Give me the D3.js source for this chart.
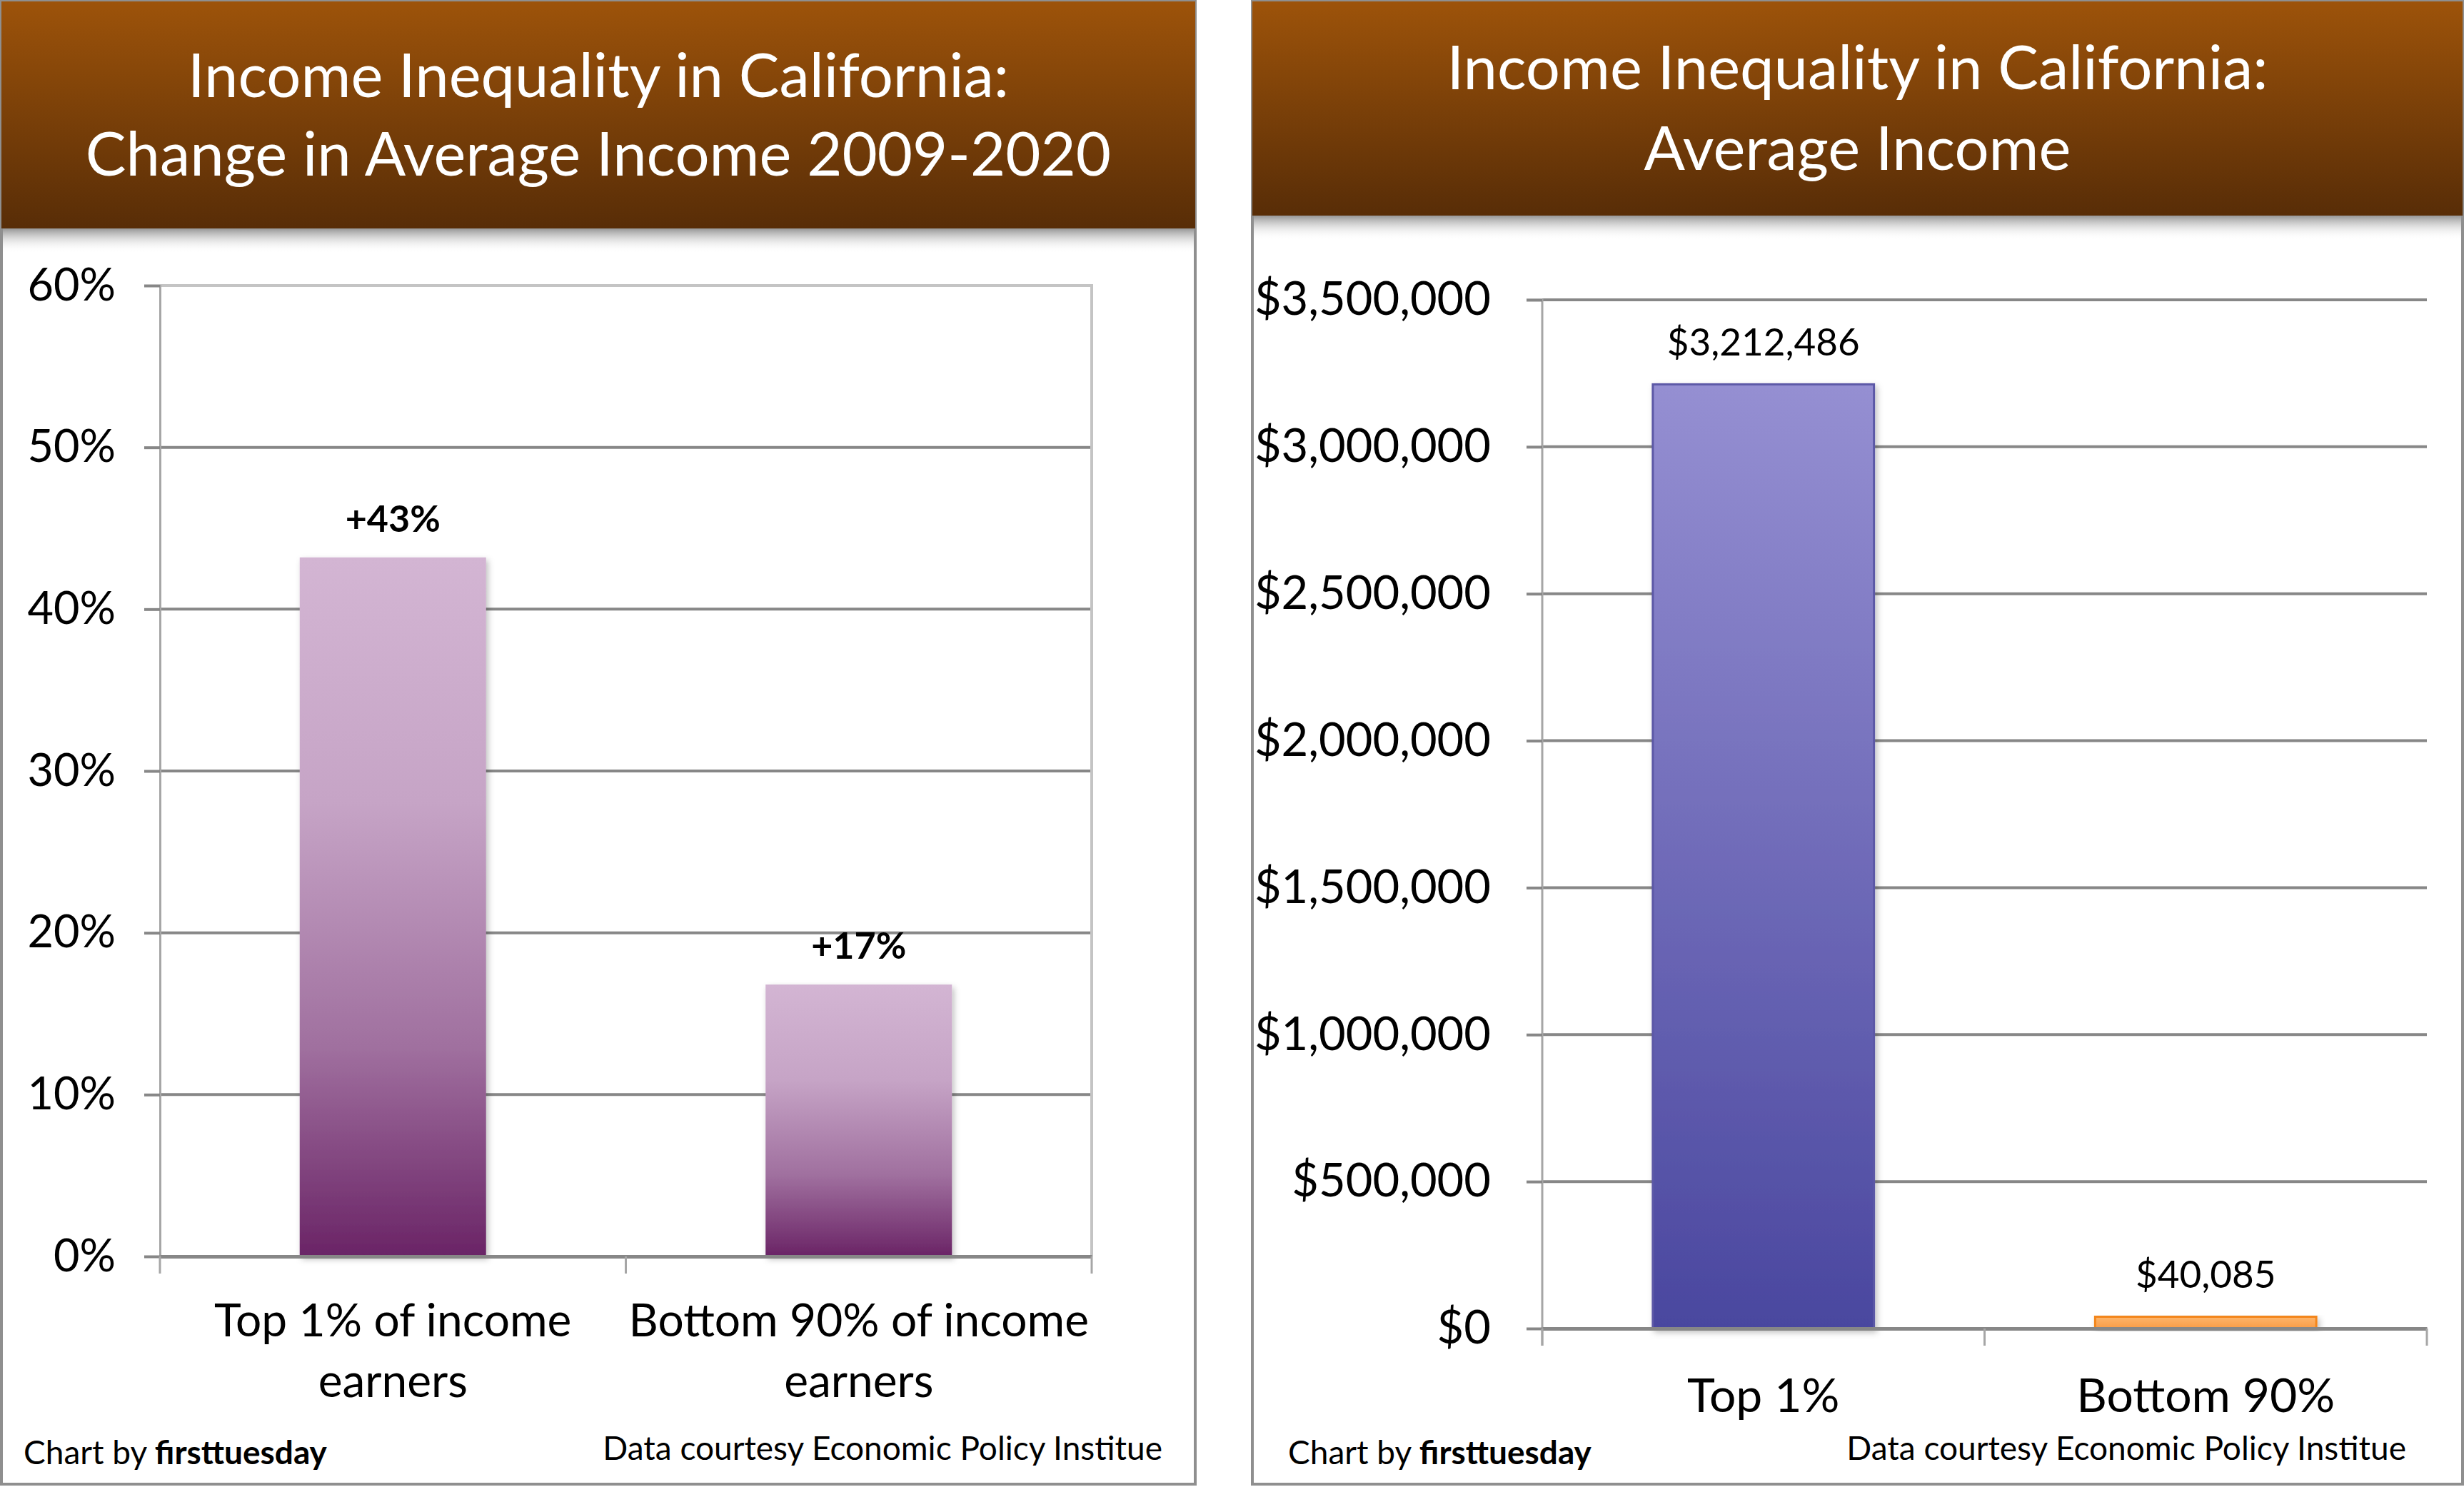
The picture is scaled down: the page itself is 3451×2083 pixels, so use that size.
<!DOCTYPE html>
<html>
<head>
<meta charset="utf-8">
<script src="https://cdn.jsdelivr.net/npm/d3@7"></script>
<style>
  body { margin: 0; background: #fff; }
  text { font-family: Lato, "Open Sans", sans-serif; }
</style>
</head>
<body>
<div id="chart"></div>
<script>
// Chart values
var changeCategories = ["Top 1% of income\nearners", "Bottom 90% of income\nearners"];
var changeValues = [43.2, 16.8];
var changeTicks = [0, 10, 20, 30, 40, 50, 60];

var incomeCategories = ["Top 1%", "Bottom 90%"];
var incomeValues = [3212486, 40085];
var incomeTicks = [0, 500000, 1000000, 1500000, 2000000, 2500000, 3000000, 3500000];

var W = 3451, H = 2083;

var svg = d3.select("#chart").append("svg")
    .attr("width", W)
    .attr("height", H);

var defs = svg.append("defs");

// header gradient (brown)
var hg = defs.append("linearGradient").attr("id", "hdr").attr("x1", 0).attr("y1", 0).attr("x2", 0).attr("y2", 1);
hg.append("stop").attr("offset", 0).attr("stop-color", "#9d530a");
hg.append("stop").attr("offset", 1).attr("stop-color", "#582d07");

// header shadow
var sg = defs.append("linearGradient").attr("id", "hdrShadow").attr("x1", 0).attr("y1", 0).attr("x2", 0).attr("y2", 1);
sg.append("stop").attr("offset", 0).attr("stop-color", "#8a8a8a").attr("stop-opacity", 0.9);
sg.append("stop").attr("offset", 1).attr("stop-color", "#ffffff").attr("stop-opacity", 0);

// purple bars (left)
var pg = defs.append("linearGradient").attr("id", "purple").attr("x1", 0).attr("y1", 0).attr("x2", 0).attr("y2", 1);
pg.append("stop").attr("offset", 0).attr("stop-color", "#d3b5d3");
pg.append("stop").attr("offset", 0.35).attr("stop-color", "#c6a4c6");
pg.append("stop").attr("offset", 0.7).attr("stop-color", "#a0709f");
pg.append("stop").attr("offset", 1).attr("stop-color", "#6a2466");

// blue bar (right)
var bg = defs.append("linearGradient").attr("id", "blue").attr("x1", 0).attr("y1", 0).attr("x2", 0).attr("y2", 1);
bg.append("stop").attr("offset", 0).attr("stop-color", "#958fd2");
bg.append("stop").attr("offset", 1).attr("stop-color", "#4a479f");

// orange bar (right)
var og = defs.append("linearGradient").attr("id", "orange").attr("x1", 0).attr("y1", 0).attr("x2", 0).attr("y2", 1);
og.append("stop").attr("offset", 0).attr("stop-color", "#fdb56b");
og.append("stop").attr("offset", 1).attr("stop-color", "#f99c47");

var shadow = defs.append("filter").attr("id", "barShadow")
    .attr("x", "-10%").attr("y", "-10%").attr("width", "130%").attr("height", "130%");
shadow.append("feDropShadow")
    .attr("dx", 3).attr("dy", 4).attr("stdDeviation", 4)
    .attr("flood-color", "#000").attr("flood-opacity", 0.25);

// draws the framed panel with the brown header
function drawPanel(x0, x1, headerH, titleLines, titleBaselines, footLeft, footRight) {
    var g = svg.append("g");
    g.append("rect")
        .attr("x", x0 + 2).attr("y", 2)
        .attr("width", x1 - x0 - 4).attr("height", H - 6)
        .attr("fill", "#fff")
        .attr("stroke", "#8f8f8f")
        .attr("stroke-width", 4);
    g.append("rect")
        .attr("x", x0 + 4).attr("y", headerH)
        .attr("width", x1 - x0 - 8).attr("height", 34)
        .attr("fill", "url(#hdrShadow)");
    g.append("rect")
        .attr("x", x0 + 2).attr("y", 2)
        .attr("width", x1 - x0 - 4).attr("height", headerH - 2)
        .attr("fill", "url(#hdr)");
    g.selectAll("text.title")
        .data(titleLines)
        .enter()
        .append("text")
        .attr("class", "title")
        .attr("x", (x0 + x1) / 2)
        .attr("y", (d, i) => titleBaselines[i])
        .attr("text-anchor", "middle")
        .attr("fill", "#fff")
        .attr("font-size", 85)
        .text(d => d);

    // footer
    var foot = g.append("text")
        .attr("x", footLeft).attr("y", 2051)
        .attr("font-size", 46)
        .attr("fill", "#000");
    foot.append("tspan").text("Chart by ");
    foot.append("tspan").attr("font-weight", "bold").text("firsttuesday");
    g.append("text")
        .attr("x", footRight).attr("y", 2045)
        .attr("text-anchor", "end")
        .attr("font-size", 46)
        .attr("fill", "#000")
        .text("Data courtesy Economic Policy Institue");
    return g;
}

// ---------- Left chart: change in average income ----------
drawPanel(0, 1676, 320, ["Income Inequality in California:", "Change in Average Income 2009-2020"], [136, 246], 33, 1628);

var xL = d3.scaleBand()
    .domain(changeCategories)
    .range([224, 1529])
    .paddingInner(0.6)
    .paddingOuter(0.3);

var yL = d3.scaleLinear()
    .domain([0, 60])
    .range([1760, 400]);

var left = svg.append("g");

// gridlines
left.selectAll("line.grid")
    .data(changeTicks.filter(t => t > 0 && t < 60))
    .enter()
    .append("line")
    .attr("x1", 224).attr("x2", 1529)
    .attr("y1", d => yL(d)).attr("y2", d => yL(d))
    .attr("stroke", "#878787")
    .attr("stroke-width", 4);

// plot area border (top and right)
left.append("path")
    .attr("d", "M224," + yL(60) + "H1529V" + yL(0))
    .attr("fill", "none")
    .attr("stroke", "#c4c4c4")
    .attr("stroke-width", 4);

// y axis
var yAxisL = left.append("g")
    .attr("transform", "translate(224,0)")
    .call(d3.axisLeft(yL).tickValues(changeTicks).tickFormat(d => d + "%").tickSize(22).tickPadding(40));
yAxisL.select(".domain").attr("stroke", "#a6a6a6").attr("stroke-width", 3);
yAxisL.selectAll(".tick line").attr("stroke", "#878787").attr("stroke-width", 4);
yAxisL.selectAll(".tick text")
    .attr("font-size", 63)
    .attr("font-family", "Lato")
    .attr("fill", "#000");

// bars
left.selectAll("rect.bar")
    .data(changeValues)
    .enter()
    .append("rect")
    .attr("class", "bar")
    .attr("x", (d, i) => xL(changeCategories[i]))
    .attr("y", d => yL(d))
    .attr("width", xL.bandwidth())
    .attr("height", d => yL(0) - yL(d))
    .attr("fill", "url(#purple)")
    .attr("filter", "url(#barShadow)");

// x axis
var xAxisL = left.append("g")
    .attr("transform", "translate(0," + yL(0) + ")")
    .call(d3.axisBottom(xL).tickSize(0).tickFormat(""));
xAxisL.select(".domain").attr("stroke", "#878787").attr("stroke-width", 5);
// category boundary ticks
left.selectAll("line.xtick")
    .data([224, (224 + 1529) / 2, 1529])
    .enter()
    .append("line")
    .attr("x1", d => d).attr("x2", d => d)
    .attr("y1", yL(0)).attr("y2", yL(0) + 24)
    .attr("stroke", "#a6a6a6")
    .attr("stroke-width", 3);

// category labels
left.selectAll("text.cat")
    .data(changeCategories)
    .enter()
    .append("text")
    .attr("class", "cat")
    .attr("x", d => xL(d) + xL.bandwidth() / 2)
    .attr("y", 1872)
    .attr("text-anchor", "middle")
    .attr("font-size", 64)
    .attr("fill", "#000")
    .selectAll("tspan")
    .data(d => d.split("\n"))
    .enter()
    .append("tspan")
    .attr("x", function() { return d3.select(this.parentNode).attr("x"); })
    .attr("dy", (d, i) => i === 0 ? 0 : 85)
    .text(d => d);

// data labels
left.selectAll("text.val")
    .data(changeValues)
    .enter()
    .append("text")
    .attr("class", "val")
    .attr("x", (d, i) => xL(changeCategories[i]) + xL.bandwidth() / 2)
    .attr("y", d => yL(d) - 36)
    .attr("text-anchor", "middle")
    .attr("font-size", 52)
    .attr("font-weight", "bold")
    .attr("fill", "#000")
    .text(d => "+" + d3.format(".0f")(d) + "%");

// ---------- Right chart: average income ----------
drawPanel(1752, 3451, 302, ["Income Inequality in California:", "Average Income"], [125, 238], 1804, 3370);

var xR = d3.scaleBand()
    .domain(incomeCategories)
    .range([2160, 3399])
    .paddingInner(0.5)
    .paddingOuter(0.25);

var yR = d3.scaleLinear()
    .domain([0, 3500000])
    .range([1861, 420]);

var right = svg.append("g");

right.selectAll("line.grid")
    .data(incomeTicks.filter(t => t > 0))
    .enter()
    .append("line")
    .attr("x1", 2160).attr("x2", 3399)
    .attr("y1", d => yR(d)).attr("y2", d => yR(d))
    .attr("stroke", "#878787")
    .attr("stroke-width", 4);

var yAxisR = right.append("g")
    .attr("transform", "translate(2160,0)")
    .call(d3.axisLeft(yR).tickValues(incomeTicks).tickFormat(d3.format("$,")).tickSize(22).tickPadding(50));
yAxisR.select(".domain").attr("stroke", "#a6a6a6").attr("stroke-width", 3)
    .attr("d", "M-22," + yR(3500000) + "H0V" + (yR(0) + 24));
yAxisR.selectAll(".tick line").attr("stroke", "#878787").attr("stroke-width", 4);
yAxisR.selectAll(".tick text")
    .attr("font-size", 65)
    .attr("font-family", "Lato")
    .attr("fill", "#000");

var barFills = ["url(#blue)", "url(#orange)"];
var barStrokes = ["#5b58a6", "#f3861c"];

right.selectAll("rect.bar")
    .data(incomeValues)
    .enter()
    .append("rect")
    .attr("class", "bar")
    .attr("x", (d, i) => xR(incomeCategories[i]))
    .attr("y", d => yR(d))
    .attr("width", xR.bandwidth())
    .attr("height", d => yR(0) - yR(d))
    .attr("fill", (d, i) => barFills[i])
    .attr("stroke", (d, i) => barStrokes[i])
    .attr("stroke-width", 3)
    .attr("filter", "url(#barShadow)");

var xAxisR = right.append("g")
    .attr("transform", "translate(0," + yR(0) + ")")
    .call(d3.axisBottom(xR).tickSize(0).tickFormat(""));
xAxisR.select(".domain").attr("stroke", "#878787").attr("stroke-width", 5);
right.selectAll("line.xtick")
    .data([2160, (2160 + 3399) / 2, 3399])
    .enter()
    .append("line")
    .attr("x1", d => d).attr("x2", d => d)
    .attr("y1", yR(0)).attr("y2", yR(0) + 24)
    .attr("stroke", "#a6a6a6")
    .attr("stroke-width", 3);

right.selectAll("text.cat")
    .data(incomeCategories)
    .enter()
    .append("text")
    .attr("class", "cat")
    .attr("x", d => xR(d) + xR.bandwidth() / 2)
    .attr("y", 1978)
    .attr("text-anchor", "middle")
    .attr("font-size", 66)
    .attr("fill", "#000")
    .text(d => d);

right.selectAll("text.val")
    .data(incomeValues)
    .enter()
    .append("text")
    .attr("class", "val")
    .attr("x", (d, i) => xR(incomeCategories[i]) + xR.bandwidth() / 2)
    .attr("y", d => yR(d) - 40)
    .attr("text-anchor", "middle")
    .attr("font-size", 53)
    .attr("fill", "#000")
    .text(d => d3.format("$,")(d));
</script>
</body>
</html>
